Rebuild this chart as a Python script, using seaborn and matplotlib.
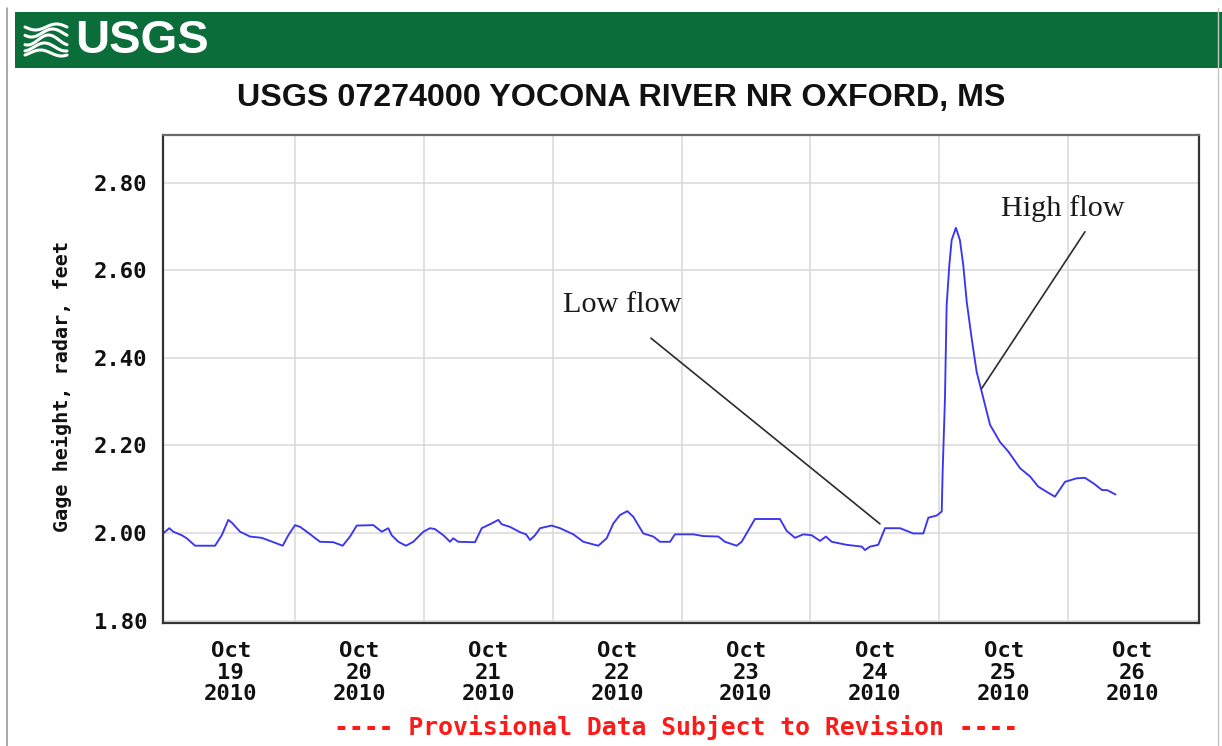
import numpy as np
import pandas as pd
import matplotlib
matplotlib.use("Agg")
import matplotlib.pyplot as plt
import seaborn as sns
from matplotlib.lines import Line2D

# ---------------- data (days since Oct 19 2010 00:00, gage height ft) ----------
day_offset = [-0.02, 0.024, 0.055, 0.12, 0.159, 0.224, 0.379, 0.431, 0.482, 0.508,
              0.573, 0.65, 0.741, 0.806, 0.904, 0.948, 1.0, 1.039, 1.091, 1.194,
              1.297, 1.37, 1.427, 1.479, 1.608, 1.673, 1.724, 1.75, 1.802, 1.861,
              1.918, 1.996, 2.048, 2.086, 2.151, 2.203, 2.228, 2.267, 2.397, 2.449,
              2.513, 2.578, 2.604, 2.669, 2.746, 2.793, 2.824, 2.863, 2.902, 2.992,
              3.057, 3.16, 3.238, 3.354, 3.419, 3.471, 3.522, 3.579, 3.626, 3.703,
              3.781, 3.833, 3.911, 3.949, 4.06, 4.091, 4.169, 4.286, 4.337, 4.428,
              4.467, 4.57, 4.764, 4.816, 4.881, 4.945, 5.01, 5.075, 5.121, 5.166,
              5.282, 5.399, 5.424, 5.463, 5.527, 5.58, 5.696, 5.799, 5.877, 5.916,
              5.981, 6.02, 6.027, 6.045, 6.058, 6.079, 6.097, 6.13, 6.161, 6.187,
              6.214, 6.252, 6.291, 6.33, 6.395, 6.472, 6.537, 6.628, 6.706, 6.769,
              6.835, 6.899, 6.977, 7.068, 7.132, 7.2, 7.265, 7.304, 7.369]
gage_height = [2.000, 2.011, 2.003, 1.995, 1.988, 1.971, 1.971, 1.995, 2.030, 2.024,
               2.003, 1.992, 1.989, 1.982, 1.971, 1.995, 2.018, 2.014, 2.003, 1.980,
               1.979, 1.971, 1.992, 2.017, 2.018, 2.003, 2.011, 1.995, 1.980, 1.971,
               1.980, 2.003, 2.011, 2.009, 1.995, 1.980, 1.988, 1.980, 1.979, 2.011,
               2.020, 2.030, 2.020, 2.014, 2.002, 1.997, 1.984, 1.995, 2.011, 2.017,
               2.011, 1.997, 1.980, 1.971, 1.988, 2.022, 2.041, 2.050, 2.037, 1.999,
               1.992, 1.980, 1.980, 1.997, 1.997, 1.997, 1.993, 1.992, 1.980, 1.971,
               1.980, 2.032, 2.032, 2.005, 1.989, 1.997, 1.995, 1.982, 1.992, 1.980,
               1.973, 1.969, 1.961, 1.969, 1.973, 2.011, 2.011, 1.999, 1.999, 2.035,
               2.040, 2.049, 2.140, 2.307, 2.520, 2.612, 2.669, 2.697, 2.669, 2.612,
               2.528, 2.445, 2.368, 2.323, 2.247, 2.208, 2.186, 2.148, 2.129, 2.106,
               2.094, 2.083, 2.117, 2.125, 2.126, 2.113, 2.098, 2.098, 2.088]

y_ticks = [1.80, 2.00, 2.20, 2.40, 2.60, 2.80]
x_tick_pos = [0.5, 1.5, 2.5, 3.5, 4.5, 5.5, 6.5, 7.5]
x_tick_labels = ["Oct\n19\n2010", "Oct\n20\n2010", "Oct\n21\n2010", "Oct\n22\n2010",
                 "Oct\n23\n2010", "Oct\n24\n2010", "Oct\n25\n2010", "Oct\n26\n2010"]
title = "USGS 07274000 YOCONA RIVER NR OXFORD, MS"
y_label = "Gage height, radar, feet"
footer = "---- Provisional Data Subject to Revision ----"
annotations = [("Low flow", (3.54, 2.52), (3.763, 2.445), (5.54, 2.021)),
               ("High flow", (6.96, 2.742), (7.132, 2.688), (6.33, 2.330))]

df = pd.DataFrame({"day": day_offset, "gage": gage_height})

# ---------------- figure ----------------
sns.set_theme(style="white")
plt.rcParams["font.family"] = ["DejaVu Sans"]

W, H = 1222, 746
fig = plt.figure(figsize=(W / 100, H / 100), dpi=100)
fig.patch.set_facecolor("white")

def fx(px):
    return px / W

def fy(py):
    return 1 - py / H

# outer frame lines
fig.add_artist(Line2D([fx(7), fx(7)], [fy(8), 0], color="#9a9a9a", lw=1.2))
fig.add_artist(Line2D([fx(1218), fx(1218)], [fy(8), 0], color="#c4c4c4", lw=1.0))

# green banner
ban = fig.add_axes([fx(15), fy(68), fx(1222) - fx(15), (68 - 12) / H])
ban.set_facecolor("#0B6D3A")
ban.set_xlim(0, 1207)
ban.set_ylim(56, 0)
ban.set_xticks([])
ban.set_yticks([])
for s in ban.spines.values():
    s.set_visible(False)
# wave icon
xx = np.linspace(10, 52, 60)
for i, (y0, amp) in enumerate([(15, 3), (21, 4), (28, 5), (35, 4), (41, 3)]):
    yy = y0 + amp * np.sin((xx - 10) / 42 * 2 * np.pi + i * 0.6)
    ban.plot(xx, yy, color="white", lw=2.2, solid_capstyle="round")
ban.text(60, 29, "USGS", color="white", fontsize=34, fontweight="bold",
         family="Liberation Sans", ha="left", va="center")

# title
fig.text(fx(621.5), fy(98), title, ha="center", va="center", fontsize=23.2,
         fontweight="bold", family="Liberation Sans", color="#111111")

# main axes
L, R, T, B = 163, 1199, 135, 623
ax = fig.add_axes([fx(L), fy(B), fx(R) - fx(L), (B - T) / H])
sns.lineplot(data=df, x="day", y="gage", ax=ax, color="#3B35F0", linewidth=1.35,
             estimator=None)
ax.set_xlim(-0.025, 8.017)
ax.set_ylim(1.7945, 2.909)

ax.set_yticks(y_ticks)
ax.set_yticklabels([f"{v:.2f}" for v in y_ticks])
ax.set_xticks(x_tick_pos)
ax.set_xticklabels(x_tick_labels, linespacing=1.1)
ax.set_xticks(range(1, 8), minor=True)

mono = "DejaVu Sans Mono"
for lab in ax.get_yticklabels():
    lab.set_fontfamily(mono)
    lab.set_fontweight("bold")
    lab.set_fontsize(16)
for lab in ax.get_xticklabels():
    lab.set_fontfamily(mono)
    lab.set_fontweight("bold")
    lab.set_fontsize(16)
ax.tick_params(axis="y", which="major", length=0, pad=11, colors="#111111")
ax.tick_params(axis="x", which="major", length=0, pad=13, colors="#111111")
ax.tick_params(axis="x", which="minor", length=0)

ax.grid(False)
ax.grid(axis="y", which="major", color="#d8d8d8", linewidth=1.1)
ax.grid(axis="x", which="minor", color="#d8d8d8", linewidth=1.1)
ax.set_axisbelow(True)

ax.set_xlabel("")
ax.set_ylabel("")
for name, s in ax.spines.items():
    s.set_visible(True)
    s.set_color("#333333")
    s.set_linewidth(1.6)
ax.spines["top"].set_color("#6a6a6a")

fig.text(fx(62), fy(387), y_label, rotation=90, ha="center", va="center",
         fontsize=14.5, fontweight="bold", family=mono, color="#111111")

# annotations
for text, tpos, p0, p1 in annotations:
    ax.add_line(Line2D([p0[0], p1[0]], [p0[1], p1[1]], color="#2b2b2b", lw=1.2))
    ax.text(tpos[0], tpos[1], text, ha="center", va="center", fontsize=21.8,
            family="Liberation Serif", color="#1a1a1a")

# footer
fig.text(fx(676.5), fy(727), footer, ha="center", va="center", fontsize=17.8,
         fontweight="bold", family=mono, color="#FF1A1A")

fig.savefig("out.png", dpi=100, facecolor="white")
